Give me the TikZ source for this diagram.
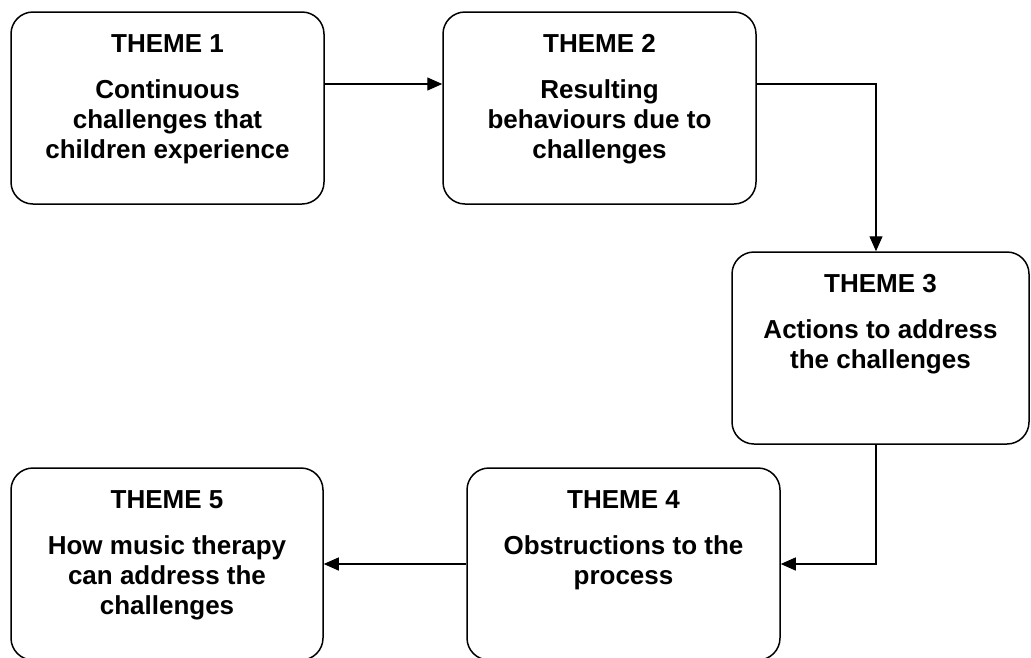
\documentclass[tikz,border=0pt]{standalone}
\usepackage{fontspec}
\setmainfont{Liberation Sans}
\usetikzlibrary{arrows.meta}
\begin{document}
\begin{tikzpicture}[x=1pt,y=-1pt,
  themebox/.style={draw=black, line width=1.5pt, rounded corners=22pt,
    minimum height=192pt, inner sep=0pt},
  themetitle/.style={anchor=base, inner sep=0pt,
    font=\fontsize{26}{30}\selectfont\bfseries},
  themetext/.style={anchor=north, inner sep=0pt, align=center,
    font=\fontsize{26}{30}\selectfont\bfseries},
  flow/.style={line width=1.3pt, -{Triangle[length=15pt,width=13pt]}}]
\useasboundingbox (0,0) rectangle (1031,657);

% the five theme boxes
\node[themebox, minimum width=313pt] (t1) at (167.5,108) {};
\node[themebox, minimum width=313pt] (t2) at (599.5,108) {};
\node[themebox, minimum width=297pt] (t3) at (880.5,348) {};
\node[themebox, minimum width=313pt] (t4) at (623.5,564) {};
\node[themebox, minimum width=312pt] (t5) at (167,564) {};

% headings
\node[themetitle] (h1) at ([yshift=-41pt]t1.north) {THEME 1};
\node[themetitle] (h2) at ([yshift=-41pt]t2.north) {THEME 2};
\node[themetitle] (h3) at ([yshift=-41pt]t3.north) {THEME 3};
\node[themetitle] (h4) at ([yshift=-41pt]t4.north) {THEME 4};
\node[themetitle] (h5) at ([yshift=-41pt]t5.north) {THEME 5};

% descriptions
\node[themetext] (d1) at ([yshift=-68pt]t1.north) {Continuous\\challenges that\\children experience};
\node[themetext] (d2) at ([yshift=-68pt]t2.north) {Resulting\\behaviours due to\\challenges};
\node[themetext] (d3) at ([yshift=-68pt]t3.north) {Actions to address\\the challenges};
\node[themetext] (d4) at ([yshift=-68pt]t4.north) {Obstructions to the\\process};
\node[themetext] (d5) at ([yshift=-68pt]t5.north) {How music therapy\\can address the\\challenges};

% connectors
\draw[flow] ([yshift=24pt]t1.east) -- ([yshift=24pt]t2.west);
\draw[flow] ([yshift=24pt]t2.east) -| ([xshift=-4.5pt]t3.north);
\draw[flow] ([xshift=-4.5pt]t3.south) |- (t4.east);
\draw[flow] (t4.west) -- (t5.east);
\end{tikzpicture}
\end{document}
